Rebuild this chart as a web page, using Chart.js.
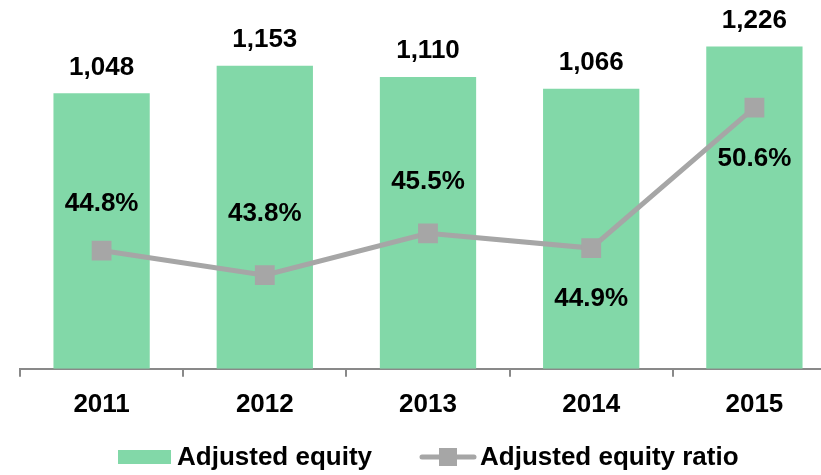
<!DOCTYPE html>
<html>
<head>
<meta charset="utf-8">
<script src="https://cdn.jsdelivr.net/npm/chart.js@4.4.1/dist/chart.umd.min.js"></script>
<style>
html, body { margin: 0; padding: 0; overflow: hidden; background: #fff; }
#wrap { width: 821px; height: 475px; overflow: hidden; }
#box { width: 850px; height: 475px; position: relative; }
</style>
</head>
<body>
<div id="wrap"><div id="box"><canvas id="chart"></canvas></div></div>
<script>
const years = ['2011', '2012', '2013', '2014', '2015'];
const adjustedEquity = [1048, 1153, 1110, 1066, 1226];
const equityRatio = [44.8, 43.8, 45.5, 44.9, 50.6];

const GREEN = '#82d8a8';
const GREY = '#a6a6a6';
const FONT = 'bold 26px "Liberation Sans", Arial, sans-serif';

// value labels over bars and around the line points
const valueLabels = {
    id: 'valueLabels',
    afterDatasetsDraw(chart, args, opts) {
        const ctx = chart.ctx;
        ctx.save();
        ctx.font = FONT;
        ctx.fillStyle = '#000';
        ctx.textAlign = 'center';
        ctx.textBaseline = 'middle';

        chart.getDatasetMeta(0).data.forEach((bar, i) => {
            ctx.fillText(adjustedEquity[i].toLocaleString('en-US'), bar.x, bar.y - 26);
        });

        chart.getDatasetMeta(1).data.forEach((pt, i) => {
            ctx.fillText(equityRatio[i].toFixed(1) + '%', pt.x, pt.y + opts.offsets[i]);
        });
        ctx.restore();
    }
};

// legend drawn by hand so the line item shows line + square marker
const customLegend = {
    id: 'customLegend',
    afterDraw(chart) {
        const ctx = chart.ctx;
        const y = 457;
        ctx.save();
        ctx.font = FONT;
        ctx.textBaseline = 'middle';
        ctx.textAlign = 'left';

        ctx.fillStyle = GREEN;
        ctx.fillRect(118, 450, 53, 14);
        ctx.fillStyle = '#000';
        ctx.fillText(chart.data.datasets[0].label, 177, y + 1);

        ctx.strokeStyle = GREY;
        ctx.lineWidth = 5;
        ctx.lineCap = 'round';
        ctx.beginPath();
        ctx.moveTo(422, y);
        ctx.lineTo(474, y);
        ctx.stroke();
        ctx.fillStyle = GREY;
        ctx.fillRect(439, y - 9, 18, 18);
        ctx.fillStyle = '#000';
        ctx.fillText(chart.data.datasets[1].label, 480, y + 1);
        ctx.restore();
    }
};

new Chart(document.getElementById('chart').getContext('2d'), {
    type: 'bar',
    data: {
        labels: years,
        datasets: [
            {
                label: 'Adjusted equity',
                data: adjustedEquity,
                backgroundColor: GREEN,
                barPercentage: 0.59,
                categoryPercentage: 1,
                yAxisID: 'y',
                order: 2
            },
            {
                type: 'line',
                label: 'Adjusted equity ratio',
                data: equityRatio,
                borderColor: GREY,
                borderWidth: 5,
                pointStyle: 'rect',
                pointRadius: 14,
                pointBackgroundColor: GREY,
                pointBorderWidth: 0,
                yAxisID: 'y1',
                order: 1
            }
        ]
    },
    options: {
        responsive: true,
        maintainAspectRatio: false,
        animation: false,
        layout: { padding: { top: 11, left: 20, right: 5, bottom: 43 } },
        plugins: {
            legend: { display: false },
            tooltip: { enabled: false },
            valueLabels: { offsets: [-47, -61, -51, 51, 51] }
        },
        scales: {
            x: {
                grid: {
                    display: true,
                    drawOnChartArea: false,
                    drawTicks: true,
                    tickLength: 8,
                    color: '#898989',
                    lineWidth: 2,
                    offset: true
                },
                border: { display: true, color: '#898989', width: 2 },
                ticks: {
                    color: '#000',
                    font: { family: '"Liberation Sans", Arial, sans-serif', size: 26, weight: 'bold' },
                    padding: 12
                }
            },
            y: { display: false, min: 0, max: 1350 },
            y1: { display: false, min: 40, max: 54.4 }
        }
    },
    plugins: [valueLabels, customLegend]
});
</script>
</body>
</html>
